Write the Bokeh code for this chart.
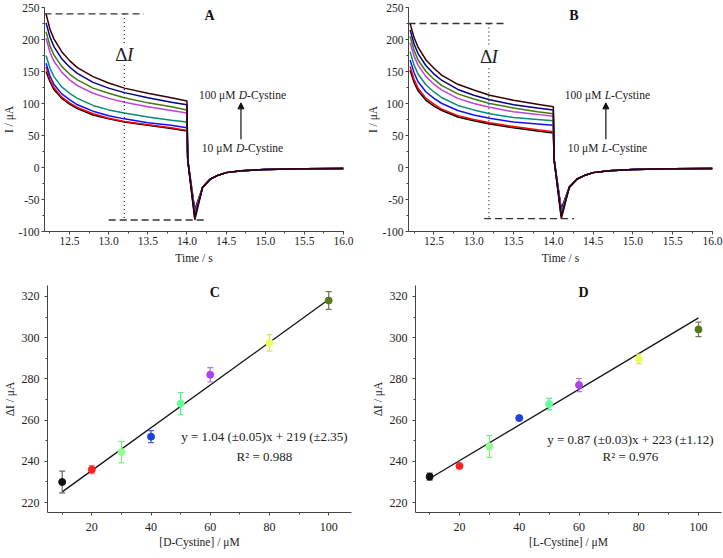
from bokeh.plotting import figure
from bokeh.layouts import row, column
from bokeh.models import Label, Arrow, NormalHead, Range1d, SingleIntervalTicker, NumeralTickFormatter
from bokeh.embed import file_html
from bokeh.resources import INLINE

# ---------------- data: chronoamperometric curves (panels A, B) ----------------
T_DECAY = [12.2, 12.25, 12.3, 12.4, 12.5, 12.6, 12.8, 13.0, 13.2, 13.5, 13.8, 14.0]
T_DROP = 14.01
I_DROP = 12
T_MIN = 14.1
T_TAIL = [14.2, 14.3, 14.4, 14.5, 14.7, 15.0, 15.5, 16.0]
I_TAIL = [-31, -18, -12, -8, -5, -3, -2, -1.5]

CURVE_COLORS = ["#000000", "#ff0000", "#1010ff", "#0a8a7a", "#c040e0", "#3f7a10", "#00008b", "#3a0000"]

A_BLACK = [150, 134, 122, 108, 99, 92, 82, 76, 71, 66, 61, 57]
A_RED = [157, 137, 125, 110, 101, 94, 84, 77, 72, 67, 62, 58]
A_BLUE = [163, 143, 130, 115, 106, 98, 88, 81, 76, 70, 66, 62]
A_TEAL = [175, 155, 142, 126, 116, 108, 97, 90, 85, 79, 74, 71]
A_VIOLET = [202, 180, 166, 149, 137, 128, 116, 108, 102, 95, 89, 85]
A_OLIVE = [212, 190, 176, 158, 146, 137, 124, 116, 109, 101, 95, 90]
A_NAVY = [226, 204, 189, 170, 157, 147, 133, 124, 117, 109, 102, 98]
A_MAROON = [240, 216, 201, 181, 167, 156, 142, 132, 124, 116, 109, 104]
A_MIN = [-66, -68, -70, -72, -74, -76, -78, -82]

B_BLACK = [152, 133, 120, 105, 96, 89, 79, 73, 68, 62, 57, 54]
B_RED = [158, 138, 124, 108, 99, 91, 81, 75, 70, 64, 59, 56]
B_BLUE = [168, 148, 134, 118, 108, 100, 89, 82, 77, 71, 68, 66]
B_TEAL = [181, 160, 146, 129, 118, 109, 97, 90, 84, 78, 75, 73]
B_VIOLET = [195, 174, 160, 142, 130, 121, 108, 100, 94, 87, 83, 80]
B_OLIVE = [205, 183, 168, 150, 138, 128, 115, 107, 100, 93, 87, 84]
B_NAVY = [215, 193, 178, 159, 146, 136, 122, 113, 106, 98, 93, 90]
B_MAROON = [225, 203, 188, 168, 155, 144, 130, 121, 113, 105, 99, 95]
B_MIN = [-65, -67, -69, -71, -73, -75, -77, -80]

# ---------------- data: calibration (panels C, D) ----------------
CONC = [10, 20, 30, 40, 50, 60, 80, 100]
DI_D = [230, 236, 244.5, 252, 268, 282, 297.5, 318]
ERR_D = [5.3, 2, 5.2, 2.9, 5.4, 3.5, 4, 4.3]
DI_L = [232.6, 237.8, 247.2, 261, 267.8, 277, 289.7, 304]
ERR_L = [1.7, 0.8, 5.3, 1, 2.8, 3.2, 2.3, 3.5]
FIT_X = [10, 100]
FIT_D = [225.2, 318.5]
FIT_L = [231.7, 309.6]
POINT_COLORS = ["#111111", "#ff2020", "#90ff90", "#2040e0", "#66ff99", "#b040f0", "#f0ff60", "#557a1a"]
ERR_COLORS = ["#666666", "#ff7070", "#80ee80", "#4060e0", "#55ee88", "#c070f0", "#e0e060", "#777755"]

SERIF = "Liberation Serif"
AXC = "#444444"
TXT = "#222222"

# approximate Times metrics (em) used for placing rich-text segments
W = {" ": 0.25, "μ": 0.576, "M": 0.889, "C": 0.667, "y": 0.5, "s": 0.389, "t": 0.278,
     "i": 0.278, "n": 0.5, "e": 0.444, "-": 0.333, "D": 0.722, "L": 0.556, "I": 0.333, "Δ": 0.612}


def tw(s, size):
    return sum(W.get(c, 0.5) for c in s) * size


def rich(p, x, y, parts, size, align="center"):
    total = sum(tw(t, size) for t, _ in parts)
    off = -total / 2 if align == "center" else 0
    for t, style in parts:
        p.add_layout(Label(x=x, y=y, x_offset=off, text=t, text_font=SERIF, text_font_size=f"{size}px",
                           text_font_style=style, text_align="left", text_baseline="middle",
                           text_color=TXT))
        off += tw(t, size)


def base(width, height, xr, yr, bl, br, bt, bb, xlabel, ylabel, xint, yint, xfmt, yfmt,
         tick_font, xstand, xlstand, ystand, ylstand):
    p = figure(width=width, height=height, x_range=Range1d(*xr), y_range=Range1d(*yr),
               output_backend="svg", toolbar_location=None,
               min_border_left=bl, min_border_right=br, min_border_top=bt, min_border_bottom=bb)
    p.outline_line_color = None
    p.grid.visible = False
    p.background_fill_color = "white"
    p.border_fill_color = "white"
    p.xaxis.ticker = SingleIntervalTicker(interval=xint, num_minor_ticks=2)
    p.yaxis.ticker = SingleIntervalTicker(interval=yint, num_minor_ticks=2)
    p.xaxis.formatter = NumeralTickFormatter(format=xfmt)
    p.yaxis.formatter = NumeralTickFormatter(format=yfmt)
    p.xaxis.axis_label = xlabel
    p.yaxis.axis_label = ylabel
    for ax in (p.xaxis[0], p.yaxis[0]):
        ax.axis_line_color = AXC
        ax.major_tick_line_color = AXC
        ax.minor_tick_line_color = AXC
        ax.major_tick_out = 3
        ax.major_tick_in = 0
        ax.minor_tick_out = 2
        ax.minor_tick_in = 0
        ax.major_label_text_font = SERIF
        ax.major_label_text_font_size = tick_font
        ax.major_label_text_color = TXT
        ax.axis_label_text_font = SERIF
        ax.axis_label_text_font_size = "11.5px"
        ax.axis_label_text_font_style = "normal"
        ax.axis_label_text_color = TXT
    p.xaxis[0].major_label_standoff = xstand
    p.xaxis[0].axis_label_standoff = xlstand
    p.yaxis[0].major_label_standoff = ystand
    p.yaxis[0].axis_label_standoff = ylstand
    return p


def transient(p, curves, mins, letter, letter_x, enant, lab_x, di_x, top_x1, bot_x0, bot_x1, gap):
    for vals, mn, col in zip(curves, mins, CURVE_COLORS):
        xs = T_DECAY + [T_DROP, T_MIN] + T_TAIL
        ys = vals + [I_DROP, mn] + I_TAIL
        p.line(xs, ys, line_color=col, line_width=1.5)
    top = max(curves[-1])
    bot = min(mins)
    left = p.x_range.start
    p.line([left, top_x1], [top, top], line_color="#333333", line_width=1.3, line_dash="7 4")
    p.line([bot_x0, bot_x1], [bot, bot], line_color="#333333", line_width=1.3, line_dash="7 4")
    p.line([di_x, di_x], [top, gap[1]], line_color="#333333", line_width=1.3, line_dash="1 3")
    p.line([di_x, di_x], [gap[0], bot], line_color="#333333", line_width=1.3, line_dash="1 3")
    rich(p, di_x, (gap[0] + gap[1]) / 2, [("Δ", "normal"), ("I", "italic")], 19)
    p.add_layout(Label(x=letter_x, y=237, text=letter, text_font=SERIF, text_font_size="14px",
                       text_font_style="bold", text_align="center", text_baseline="middle", text_color="#111111"))
    rich(p, lab_x, 113, [("100 μM ", "normal"), (enant, "italic"), ("-Cystine", "normal")], 11.5)
    rich(p, lab_x, 31, [("10 μM ", "normal"), (enant, "italic"), ("-Cystine", "normal")], 11.5)
    p.add_layout(Arrow(end=NormalHead(size=6, fill_color="#111111", line_color="#111111"),
                       x_start=lab_x - 0.02, y_start=44, x_end=lab_x - 0.02, y_end=101,
                       line_color="#111111", line_width=1.2))


def calib(p, di, err, fit, letter, eq, r2, eq_x, eq_y):
    p.line(FIT_X, fit, line_color="#111111", line_width=1.3)
    lo = [v - e for v, e in zip(di, err)]
    hi = [v + e for v, e in zip(di, err)]
    p.segment(CONC, lo, CONC, hi, line_color=ERR_COLORS, line_width=1.2)
    cw = 1.0
    p.segment([c - cw for c in CONC], hi, [c + cw for c in CONC], hi, line_color=ERR_COLORS, line_width=1.2)
    p.segment([c - cw for c in CONC], lo, [c + cw for c in CONC], lo, line_color=ERR_COLORS, line_width=1.2)
    p.scatter(CONC, di, size=7, fill_color=POINT_COLORS, line_color=POINT_COLORS)
    p.add_layout(Label(x=61.5, y=322, text=letter, text_font=SERIF, text_font_size="14px",
                       text_font_style="bold", text_align="center", text_baseline="middle", text_color="#111111"))
    p.add_layout(Label(x=eq_x, y=eq_y, text=eq, text_font=SERIF, text_font_size="13px",
                       text_align="center", text_baseline="middle", text_color=TXT))
    p.add_layout(Label(x=eq_x, y=242.2, text=r2, text_font=SERIF, text_font_size="13px",
                       text_align="center", text_baseline="middle", text_color=TXT))


XR_T = (12.18, 16.0)
YR_T = (-100, 250)
YR_C = (215.2, 325.3)

pA = base(360, 280, XR_T, YR_T, 39, 17, 7, 49, "Time / s", "I / μA", 0.5, 50, "0.0", "0",
          "11.5px", 2, 4, 2, 0)
transient(pA, [A_BLACK, A_RED, A_BLUE, A_TEAL, A_VIOLET, A_OLIVE, A_NAVY, A_MAROON], A_MIN,
          "A", 14.29, "D", 14.71, 13.2, 13.45, 13.0, 14.26, (160, 192))

pB = base(363, 280, XR_T, YR_T, 48, 11, 7, 49, "Time / s", "I / μA", 0.5, 50, "0.0", "0",
          "11.5px", 2, 4, 2, 0)
transient(pB, [B_BLACK, B_RED, B_BLUE, B_TEAL, B_VIOLET, B_OLIVE, B_NAVY, B_MAROON], B_MIN,
          "B", 14.26, "L", 14.68, 13.19, 13.42, 13.13, 14.26, (155, 192))

pC = base(360, 278, (5.04, 107.7), YR_C, 44, 9, 5, 46, "[D-Cystine] / μM", "ΔI / μA", 20, 20, "0", "0",
          "12px", 7, 2, 5, 3)
calib(pC, DI_D, ERR_D, FIT_D, "C", "y = 1.04 (±0.05)x + 219 (±2.35)", "R² = 0.988", 78.3, 252.2)

pD = base(363, 278, (5.27, 107.7), YR_C, 55, 2, 5, 46, "[L-Cystine] / μM", "ΔI / μA", 20, 20, "0", "0",
          "12px", 7, 2, 5, 3)
calib(pD, DI_L, ERR_L, FIT_L, "D", "y = 0.87 (±0.03)x + 223 (±1.12)", "R² = 0.976", 77.2, 250.6)

layout = column(row(pA, pB), row(pC, pD))
open("out.html", "w").write(file_html(layout, INLINE))
